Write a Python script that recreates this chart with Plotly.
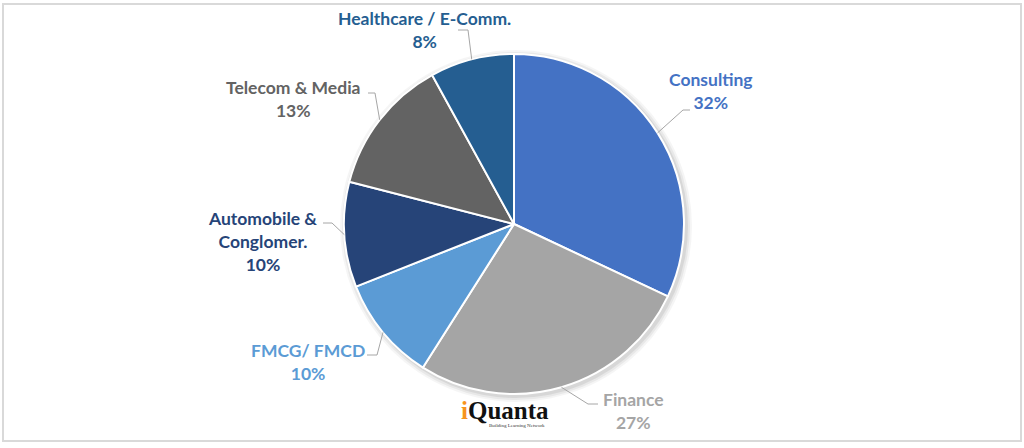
import math
import plotly.graph_objects as go

# ---- data ----
categories = ["Consulting", "Finance", "FMCG/ FMCD", "Automobile &<br>Conglomer.",
              "Telecom & Media", "Healthcare / E-Comm."]
values = [32, 27, 10, 10, 13, 8]
colors = ["#4472C4", "#A5A5A5", "#5B9BD5", "#264478", "#636363", "#255E91"]
label_colors = ["#4472C4", "#A5A5A5", "#5B9BD5", "#264478", "#636363", "#255E91"]

W, H = 1024, 448
CX, CY, R = 514, 224, 170

# label layout: (text centre x, text centre y, elbow x, elbow y, end x)
label_pos = [
    (711, 91, 683, 110, 690),
    (633, 411, 588, 404, 598),
    (308, 362, 377, 355, 367),
    (262, 241, 332, 223, 323),
    (293, 99, 375, 93, 368),
    (424, 30, 468, 30, 458),
]

def px(x):
    return x / W

def py(y):
    return 1 - y / H

fig = go.Figure()
fig.add_trace(go.Pie(
    labels=categories, values=values, sort=False, direction="clockwise", rotation=0,
    marker=dict(colors=colors, line=dict(color="white", width=2)),
    textinfo="none", hoverinfo="label+percent", showlegend=False,
    domain=dict(x=[px(CX - R), px(CX + R)], y=[py(CY + R), py(CY - R)]),
))

total = sum(values)
cum = 0
shapes = []
annotations = []

# soft shadow behind the pie
for k, op in [(6, 0.04), (4, 0.05), (2, 0.07)]:
    shapes.append(dict(type="circle", xref="paper", yref="paper",
                       x0=px(CX - R - k + 2), x1=px(CX + R + k + 2),
                       y0=py(CY + R + k + 2), y1=py(CY - R - k + 2),
                       fillcolor=f"rgba(0,0,0,{op})", line=dict(width=0), layer="below"))

for i, v in enumerate(values):
    mid = (cum + v / 2) / total * 2 * math.pi
    cum += v
    ex = CX + R * math.sin(mid)
    ey = CY - R * math.cos(mid)
    tx, ty, bx, by, endx = label_pos[i]
    path = f"M {px(ex)},{py(ey)} L {px(bx)},{py(by)} L {px(endx)},{py(by)}"
    shapes.append(dict(type="path", xref="paper", yref="paper", path=path,
                       line=dict(color="#A6A6A6", width=1)))
    pct = round(v / total * 100)
    annotations.append(dict(
        x=px(tx), y=py(ty), xref="paper", yref="paper", showarrow=False,
        xanchor="center", yanchor="middle", align="center",
        text=f"{categories[i]}<br>{pct}%",
        font=dict(family="Lato", size=17.5, color=label_colors[i], weight="bold"),
    ))

# chart border
shapes.append(dict(type="rect", xref="paper", yref="paper",
                   x0=px(3), x1=px(1021), y0=py(441), y1=py(4),
                   line=dict(color="#D9D9D9", width=2), layer="below"))

# logo
annotations.append(dict(
    x=px(505), y=py(410), xref="paper", yref="paper", showarrow=False,
    xanchor="center", yanchor="middle",
    text="<span style='color:#F7941D'>i</span>Quanta",
    font=dict(family="Liberation Serif", size=25, color="#111111", weight="bold"),
))
annotations.append(dict(
    x=px(517), y=py(425), xref="paper", yref="paper", showarrow=False,
    xanchor="center", yanchor="middle",
    text="Building Learning Network",
    font=dict(family="Liberation Serif", size=5, color="#333333"),
))

fig.update_layout(
    width=W, height=H, autosize=False,
    margin=dict(l=0, r=0, t=0, b=0),
    paper_bgcolor="white", plot_bgcolor="white",
    shapes=shapes, annotations=annotations,
)

fig.write_html("out.html", config={"displayModeBar": False},
               post_script="document.body.style.margin='0';")
